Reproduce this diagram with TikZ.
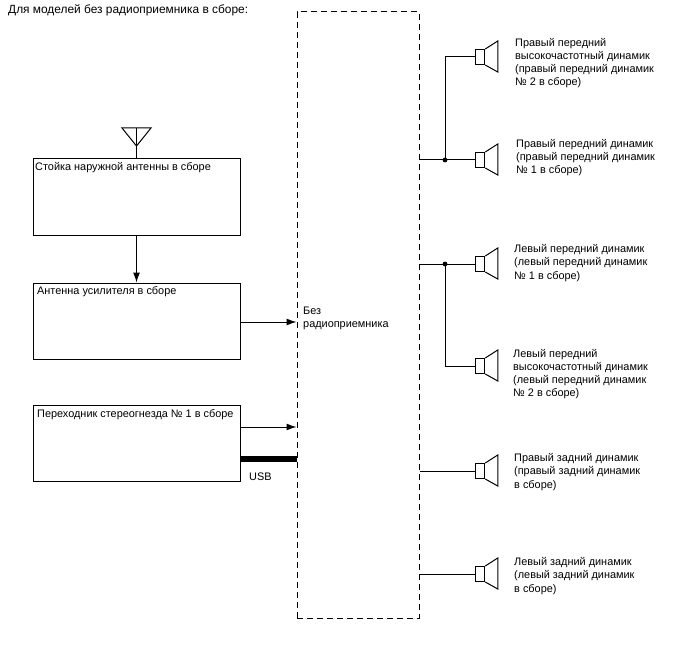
\documentclass[tikz,border=0pt]{standalone}
\usepackage{fontspec}
\setmainfont{Liberation Sans}
\usetikzlibrary{arrows.meta}
\tikzset{
  block/.style={draw, line width=1pt, minimum width=207pt, minimum height=76pt, inner sep=0pt},
  caption/.style={anchor=west, inner sep=0pt, font=\fontsize{10.9}{13.2}\selectfont, align=left},
  wire/.style={line width=1pt},
  feed/.style={wire, -{Latex[length=10pt,width=7pt]}},
  speaker/.style={draw, line width=1pt, minimum width=9.5pt, minimum height=15pt, inner sep=0pt}
}
\begin{document}
\begin{tikzpicture}[x=1pt, y=-1pt]
  \useasboundingbox (0, 0) rectangle (688, 658);
  \node[caption, font=\fontsize{11.9}{13.2}\selectfont] (title) at (8, 10) {Для моделей без радиоприемника в сборе:};

  % head unit
  \node[draw, line width=1pt, dash pattern=on 6pt off 4pt, minimum width=122pt, minimum height=606pt, inner sep=0pt] (unit) at (358, 315) {};
  \node[caption] (unittext) at (303, 318) {Без\\радиоприемника};

  % boxes on the left
  \node[block] (mast) at (136.5, 197) {};
  \node[block] (amp) at (136.5, 321) {};
  \node[block] (stereo) at (136.5, 443) {};
  \node[caption] (masttext) at (35, 167.5) {Стойка наружной антенны в сборе};
  \node[caption] (amptext) at (37, 291.5) {Антенна усилителя в сборе};
  \node[caption] (stereotext) at (37, 415) {Переходник стереогнезда № 1 в сборе};

  % antenna
  \coordinate (tip) at (136.5, 128);
  \draw[wire] (122, 128) -- (151, 128) -- (136.5, 146) -- cycle;
  \draw[wire] (tip) -- (mast.north);

  \draw[feed] (mast) -- (amp);
  \draw[feed] (amp.east |- 0, 322) -- (unit.west |- 0, 322);
  \draw[feed] (stereo.east |- 0, 427) -- (unit.west |- 0, 427);
  \draw[line width=6pt] (stereo.east |- 0, 459) -- (unit.west |- 0, 459);
  \node[caption] (usb) at (249, 477) {USB};

  % speakers
  \foreach \name/\y in {a/57, b/160, c/264, d/366, e/471, f/574} {
    \node[speaker] (\name) at (480, \y) {};
    \draw[wire] (\name.north east) -- ++(12.5, -8) -- ++(0, 31) -- (\name.south east);
  }
  \node[caption] (atext) at (515, 63) {Правый передний\\высокочастотный динамик\\(правый передний динамик\\№ 2 в сборе)};
  \node[caption] (btext) at (516, 157.5) {Правый передний динамик\\(правый передний динамик\\№ 1 в сборе)};
  \node[caption] (ctext) at (514, 263) {Левый передний динамик\\(левый передний динамик\\№ 1 в сборе)};
  \node[caption] (dtext) at (513, 374) {Левый передний\\высокочастотный динамик\\(левый передний динамик\\№ 2 в сборе)};
  \node[caption] (etext) at (514, 472) {Правый задний динамик\\(правый задний динамик\\в сборе)};
  \node[caption] (ftext) at (514, 576) {Левый задний динамик\\(левый задний динамик\\в сборе)};

  % wiring to the speakers
  \foreach \name in {b, c, e, f}
    \draw[wire] (unit.east |- \name.west) -- (\name.west);
  \coordinate (fork1) at (445, 160);
  \coordinate (fork2) at (445, 264);
  \draw[wire] (fork1) -- (fork1 |- a.west) -- (a.west);
  \draw[wire] (fork2) -- (fork2 |- d.west) -- (d.west);
  \fill (fork1) circle (2.4pt) (fork2) circle (2.4pt);
\end{tikzpicture}
\end{document}
